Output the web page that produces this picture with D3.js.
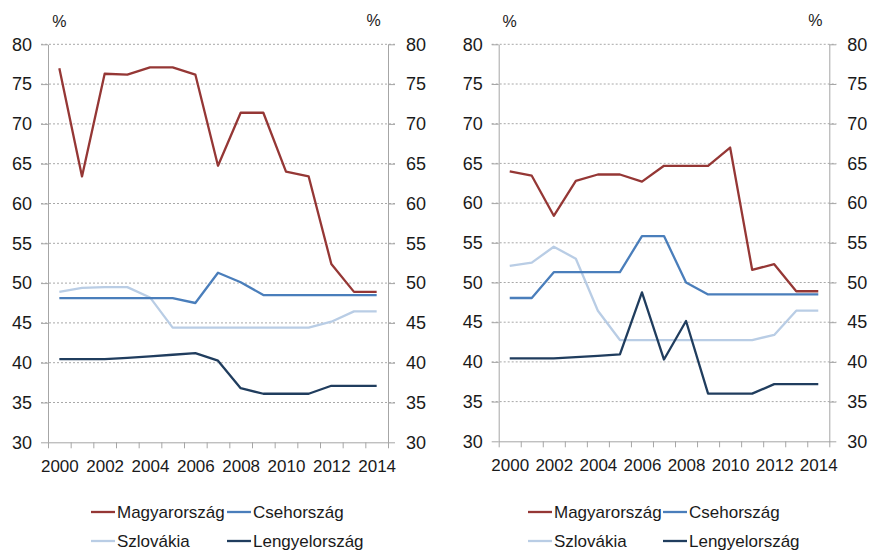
<!DOCTYPE html>
<html>
<head>
<meta charset="utf-8">
<script src="https://cdn.jsdelivr.net/npm/d3@7"></script>
<style>
	body { margin:0; background:#fff; }
	svg text { font-family: "Liberation Sans", Arial, sans-serif; fill:#1a1a1a; }
	.axis path, .axis line { stroke:#a6a6a6; }
	.grid line { stroke:#a8a8a8; stroke-dasharray:2,2; }
</style>
</head>
<body>
<svg width="869" height="554"></svg>
<script>
var years = [2000,2001,2002,2003,2004,2005,2006,2007,2008,2009,2010,2011,2012,2013,2014];
var yearLabels = [2000,2002,2004,2006,2008,2010,2012,2014];
var yTicks = [30,35,40,45,50,55,60,65,70,75,80];
var seriesNames = ["Magyarország","Csehország","Szlovákia","Lengyelország"];
var seriesColors = ["#953735","#4a7ebb","#b9cde5","#203d5e"];

// left chart
var huLeft = [77.0,63.4,76.3,76.2,77.1,77.1,76.2,64.75,71.4,71.4,64.0,63.4,52.4,48.9,48.9];
var czLeft = [48.1,48.1,48.1,48.1,48.1,48.1,47.5,51.3,50.1,48.5,48.5,48.5,48.5,48.5,48.5];
var skLeft = [48.9,49.4,49.5,49.5,48.2,44.4,44.4,44.4,44.4,44.4,44.4,44.4,45.15,46.45,46.45];
var plLeft = [40.45,40.45,40.45,40.6,40.8,41.0,41.2,40.25,36.8,36.1,36.1,36.1,37.1,37.1,37.1];

// right chart
var huRight = [64.0,63.45,58.4,62.8,63.6,63.6,62.7,64.7,64.7,64.7,67.0,51.6,52.3,48.9,48.9];
var czRight = [48.05,48.05,51.3,51.3,51.3,51.3,55.85,55.85,50.0,48.5,48.5,48.5,48.5,48.5,48.5];
var skRight = [52.1,52.5,54.5,53.0,46.45,42.75,42.75,42.75,42.75,42.75,42.75,42.75,43.4,46.45,46.45];
var plRight = [40.45,40.45,40.45,40.6,40.75,40.95,48.75,40.3,45.15,36.0,36.0,36.0,37.2,37.2,37.2];

var Chart = (function(){
	var svg = d3.select("svg");

	var drawPanel = function(p, data){
		var g = svg.append("g");
		var x = d3.scaleLinear().domain([years[0]-0.5, years[years.length-1]+0.5]).range([p.left, p.right]);
		var y = d3.scaleLinear().domain([30,80]).range([p.bottom, p.top]);

		// dotted gridlines
		g.append("g").attr("class","grid")
			.selectAll("line")
			.data(yTicks.slice(1))
			.enter()
			.append("line")
			.attr("x1", p.left-7)
			.attr("x2", p.right+7)
			.attr("y1", function(d){ return y(d); })
			.attr("y2", function(d){ return y(d); });

		var yl = g.append("g").attr("class","axis")
			.attr("transform","translate("+p.left+",0)")
			.call(d3.axisLeft(y).tickValues(yTicks).tickSize(7).tickSizeOuter(0).tickPadding(9));
		var yr = g.append("g").attr("class","axis")
			.attr("transform","translate("+p.right+",0)")
			.call(d3.axisRight(y).tickValues(yTicks).tickSize(7).tickSizeOuter(0).tickPadding(11));
		[yl,yr].forEach(function(a){
			a.selectAll("text").style("font-size","18px").attr("fill","#1a1a1a");
		});

		// category boundary ticks
		g.append("g").attr("class","axis")
			.attr("transform","translate(0,"+p.bottom+")")
			.call(d3.axisBottom(x).tickValues(d3.range(years[0]-0.5, years[years.length-1]+1, 1)).tickSize(6).tickSizeOuter(0).tickFormat(""));
		var xl = g.append("g").attr("class","axis")
			.attr("transform","translate(0,"+p.bottom+")")
			.call(d3.axisBottom(x).tickValues(yearLabels).tickSize(0).tickPadding(18).tickFormat(d3.format("d")));
		xl.select(".domain").remove();
		xl.selectAll("text").style("font-size","17px").attr("fill","#1a1a1a");

		// % labels
		g.append("text").attr("x", x(years[0])).attr("y", 27).attr("text-anchor","middle").style("font-size","16px").text("%");
		g.append("text").attr("x", x(years[years.length-1])-3).attr("y", 26).attr("text-anchor","middle").style("font-size","16px").text("%");

		var line = d3.line()
			.x(function(d,i){ return x(years[i]); })
			.y(function(d){ return y(d); });

		// draw light series first so the dark ones stay on top
		[2,1,3,0].forEach(function(k){
			g.append("path")
				.attr("d", line(data[k]))
				.attr("fill","none")
				.attr("stroke", seriesColors[k])
				.attr("stroke-width", 2.3)
				.attr("stroke-linejoin","round");
		});

		// legend
		var leg = g.append("g");
		var items = leg.selectAll("g")
			.data(seriesNames)
			.enter()
			.append("g")
			.attr("transform", function(d,i){
				return "translate("+(p.legX + (i%2)*p.legCol)+","+(512 + Math.floor(i/2)*29)+")";
			});
		items.append("line")
			.attr("x1",0).attr("x2",24)
			.attr("stroke", function(d,i){ return seriesColors[i]; })
			.attr("stroke-width", 2.3);
		items.append("text")
			.attr("x",26).attr("dy","0.36em")
			.style("font-size","17px")
			.text(function(d){ return d; });
	};

	return {
		render : function(){
			drawPanel({left:48, right:388, top:44.3, bottom:442.3, legX:91, legCol:136}, [huLeft,czLeft,skLeft,plLeft]);
			drawPanel({left:498.7, right:829.3, top:44.3, bottom:441.3, legX:528, legCol:135}, [huRight,czRight,skRight,plRight]);
		}
	}
})();

Chart.render();
</script>
</body>
</html>
